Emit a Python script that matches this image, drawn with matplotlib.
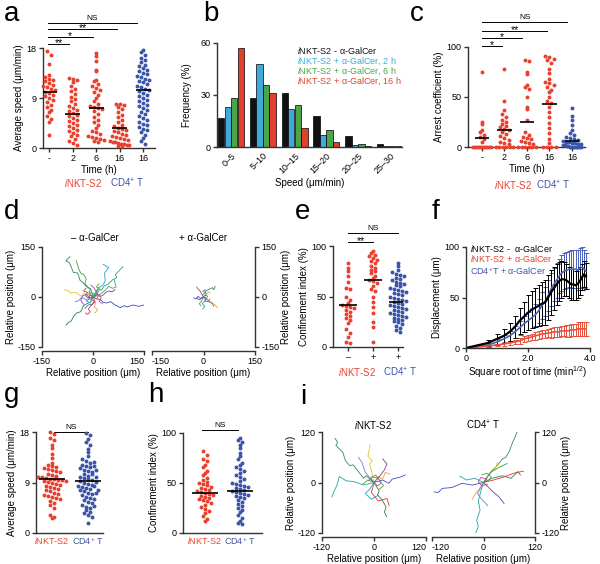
import numpy as np
import matplotlib
matplotlib.use("Agg")
import matplotlib.pyplot as plt
from matplotlib.transforms import blended_transform_factory

plt.rcParams["font.family"] = ["Liberation Sans", "DejaVu Sans"]
plt.rcParams["mathtext.fontset"] = "custom"
plt.rcParams["mathtext.rm"] = "Liberation Sans"
plt.rcParams["mathtext.it"] = "Liberation Sans:italic"
plt.rcParams["axes.unicode_minus"] = False

W, H = 600, 564
RED = "#e8412f"
BLUE = "#3c55a8"
NKT = r"$\mathit{i}$NKT-S2"
CD4 = r"CD4$^{+}$ T"

# ---- panel a: average speed over time ----
a_cats = ["-", "2", "6", "16", "16"]
a_ctrl = [17.4, 16.7, 15.2, 13.1, 12.8, 12.5, 12.3, 12.0, 11.7, 11.4, 11.2, 10.9, 10.6, 10.4, 10.1,
          9.9, 9.6, 9.3, 9.0, 8.6, 8.2, 7.8, 7.3, 6.9, 6.4, 5.8, 5.2, 4.6, 2.4]
a_2h = [12.6, 12.4, 12.2, 11.9, 11.2, 10.7, 10.2, 9.7, 9.2, 8.8, 8.4, 8.0, 7.6, 7.2, 6.9, 6.6, 6.3,
        6.0, 5.7, 5.4, 5.1, 4.8, 4.5, 4.2, 3.9, 3.6, 3.3, 3.0, 2.7, 2.4, 2.1, 1.7, 1.3, 0.9, 0.5]
a_6h = [17.1, 16.6, 15.6, 14.1, 13.8, 12.3, 12.0, 11.6, 11.1, 10.8, 10.4, 10.0, 9.5, 9.0, 8.4, 7.9,
        7.6, 7.4, 7.2, 7.0, 6.6, 6.1, 5.6, 5.1, 4.6, 4.1, 3.6, 3.1, 2.8, 2.5, 2.2, 2.0, 1.8, 1.6,
        1.4, 1.2, 1.0]
a_16h = [8.0, 7.9, 7.7, 7.4, 7.0, 6.5, 6.0, 5.5, 5.0, 4.6, 4.2, 3.9, 3.6, 3.4, 3.2, 3.0, 2.8, 2.6,
         2.4, 2.2, 2.0, 1.8, 1.6, 1.4, 1.3, 1.1, 1.0, 0.9, 0.8, 0.7, 0.6, 0.5, 0.4, 0.3]
a_cd4 = [17.6, 17.3, 16.8, 16.2, 15.8, 15.4, 15.0, 14.7, 14.4, 14.1, 13.8, 13.5, 13.3, 13.0, 12.8,
         12.5, 12.3, 12.0, 11.8, 11.5, 11.2, 11.0, 10.7, 10.4, 10.2, 9.9, 9.6, 9.3, 9.0, 8.7, 8.4,
         8.1, 7.8, 7.5, 7.2, 6.9, 6.5, 6.1, 5.8, 5.4, 5.0, 4.7, 4.4, 4.1, 3.8, 3.5, 3.2, 2.8, 2.3,
         1.8, 1.3, 0.8]
a_medians = [10.1, 6.2, 7.2, 3.6, 10.4]

# ---- panel b: speed histogram ----
b_bins = ["0–5", "5–10", "10–15", "15–20", "20–25", "25–30"]
b_ctrl = [17, 28, 31, 18, 6.5, 1.5]
b_2h = [23, 48, 22, 7, 1, 0.3]
b_6h = [28, 36, 24, 10, 2, 0.3]
b_16h = [57, 31, 11, 3, 0.3, 0.3]
b_labels = [NKT + " - α-GalCer", NKT + " + α-GalCer, 2 h",
            NKT + " + α-GalCer, 6 h", NKT + " + α-GalCer, 16 h"]
b_colors = ["#111111", "#3fa9dc", "#4aa646", "#e2402b"]

# ---- panel c: arrest coefficient ----
c_ctrl = [75, 25, 23, 17, 15, 12, 10, 8, 5, 0, 0, 0, 0, 0, 0, 0, 0, 0, 0]
c_2h = [78, 46, 37, 33, 30, 27, 25, 23, 21, 20, 18, 17, 15, 13, 11, 9, 7, 5, 4, 3, 0, 0, 0, 0, 0, 0]
c_6h = [87, 86, 75, 73, 62, 60, 58, 50, 40, 38, 27, 15, 12, 10, 9, 8, 6, 5, 4, 3, 0, 0, 0, 0, 0, 0]
c_16h = [91, 90, 88, 87, 84, 78, 74, 68, 65, 64, 62, 60, 57, 55, 50, 46, 44, 40, 35, 30, 24, 19,
         14, 8, 4, 0, 0, 0, 0]
c_cd4 = [39, 31, 27, 22, 17, 14, 12, 10, 9, 8, 7, 6, 5, 5, 4, 4, 3, 3, 2, 2, 1, 1, 0, 0, 0, 0, 0, 0, 0, 0]
c_medians = [9, 17, 25, 43, 6]

# ---- panel d: tracks (x, y) ----
d_left_tracks = [
    [(0, 0), (-12, 14), (-6, 24), (-20, 32), (-30, 44), (-38, 50), (-45, 72), (-58, 74), (-62, 85),
     (-70, 104), (-80, 108), (-68, 121)],
    [(0, 0), (14, 12), (10, 20), (26, 22), (34, 34), (44, 38), (58, 52), (70, 58), (66, 68),
     (76, 78), (88, 91)],
    [(0, 0), (12, -6), (22, -8), (30, -16), (40, -18), (52, -14), (62, -22), (80, -32), (92, -26),
     (100, -30), (118, -24), (135, -28), (150, -24)],
    [(0, 0), (-8, -16), (-18, -20), (-28, -26), (-36, -44), (-48, -48), (-56, -56), (-64, -72),
     (-72, -76), (-79, -84)],
    [(0, 0), (6, -14), (-4, -24), (-14, -36), (-8, -44), (-16, -52), (-22, -48)],
    [(0, 0), (-10, 8), (-18, 6), (-26, 12), (-34, 2), (-50, 14), (-66, 12), (-74, 20), (-83, 21)],
    [(0, 0), (8, -16), (4, -30), (14, -38), (6, -48)],
    [(0, 0), (14, 8), (22, 2), (30, 6), (38, 14), (46, 18), (56, 16), (65, 22)],
    [(0, 0), (-6, 22), (-14, 28), (-24, 40), (-20, 54), (-26, 66), (-36, 72), (-42, 84), (-49, 109)],
    [(0, 0), (8, 14), (16, 28), (28, 34), (36, 48), (34, 72), (46, 88), (30, 98)],
    [(0, 0), (-18, -10), (-26, -4), (-34, -2), (-44, -12), (-52, -14)],
    [(0, 0), (12, 10), (4, 26), (-6, 36)],
    [(0, 0), (14, 4), (26, 12), (36, 20), (46, 32), (58, 26), (68, 30), (62, 52)],
    [(0, 0), (-8, 6), (-14, -4), (-22, 4), (-16, 14), (-28, 18), (-20, 26)],
    [(0, 0), (6, 8), (-4, 14), (-12, 10), (-10, -6), (-20, -12), (-8, -18)],
    [(0, 0), (10, -6), (16, 4), (24, -2), (18, -14), (28, -20)],
    [(0, 0), (-6, -8), (4, -12), (-2, -22), (-14, -24), (-24, -34)],
    [(0, 0), (4, 10), (14, 14), (20, 24), (10, 30), (18, 40)],
    [(0, 0), (-12, -2), (-18, 8), (-30, 4), (-36, -10), (-28, -22)],
]
d_right_tracks = [
    [(0, 0), (8, 10), (4, 16), (14, 22), (26, 28), (30, 22), (34, 32)],
    [(0, 0), (6, -10), (-4, -20), (4, -28), (-2, -36)],
    [(0, 0), (-8, -4), (-16, 2), (-22, -6), (-28, -2)],
    [(0, 0), (10, -6), (16, -14), (26, -20), (30, -28)],
    [(0, 0), (-6, 10), (-10, 18), (-16, 24), (-20, 30)],
    [(0, 0), (10, 8), (14, 16), (20, 12)],
    [(0, 0), (14, -10), (24, -16), (34, -24), (40, -32)],
    [(0, 0), (-12, -8), (-20, -4)],
    [(0, 0), (-6, -12), (-12, -20), (-8, -26)],
    [(0, 0), (6, 6), (12, 2), (8, -6)],
    [(0, 0), (-4, 6), (4, 12), (-2, 18), (6, 22)],
    [(0, 0), (8, -4), (4, -12), (14, -14), (18, -6)],
]

# ---- panel e: confinement index ----
e_cats = ["–", "+", "+"]
e_ctrl = [83, 78, 75, 70, 64, 58, 57, 50, 47, 44, 42, 41, 40, 39, 37, 35, 33, 31, 29, 27, 24,
          18, 14, 10, 5, 4]
e_plus = [95, 93, 91, 90, 88, 86, 85, 83, 80, 78, 76, 75, 73, 70, 68, 66, 65, 63, 60, 57, 55,
          50, 45, 40, 34, 25, 20, 5]
e_cd4 = [83, 80, 76, 74, 72, 71, 70, 68, 67, 66, 64, 63, 62, 61, 60, 58, 57, 56, 55, 54, 53, 52,
         51, 50, 49, 48, 47, 46, 45, 44, 43, 42, 41, 40, 39, 38, 37, 36, 35, 34, 33, 32, 31, 30,
         29, 28, 27, 26, 25, 23, 21, 19, 17, 15]
e_medians = [42, 66, 45]

# ---- panel f: displacement vs sqrt(time) ----
f_sqrt_t = [0, 0.71, 1.0, 1.22, 1.41, 1.58, 1.73, 1.87, 2.0, 2.12, 2.24, 2.35, 2.45, 2.55, 2.65, 2.74,
            2.83, 2.92, 3.0, 3.08, 3.16, 3.24, 3.32, 3.39, 3.46, 3.54, 3.61, 3.67, 3.74, 3.81, 3.87]
f_ctrl = [0, 5, 9, 12, 16, 21, 27, 31, 35, 38, 40, 42, 44, 45, 50, 55, 59, 63, 66, 68, 68, 67, 65,
          63, 63, 62, 64, 66, 70, 73, 71]
f_ctrl_err = [0, 3, 5, 7, 9, 11, 13, 15, 17, 18, 19, 20, 21, 22, 22, 22, 21, 20, 19, 18, 17, 16,
              15, 15, 15, 14, 14, 14, 13, 13, 13]
f_cd4 = [0, 3, 6, 9, 12, 16, 20, 24, 27, 30, 33, 37, 42, 46, 52, 58, 63, 67, 71, 74, 76, 77, 78,
         78, 78, 78, 77, 79, 80, 78, 76]
f_cd4_err = [0, 2, 3, 4, 5, 6, 7, 8, 9, 10, 11, 12, 13, 14, 15, 16, 16, 17, 17, 18, 18, 18, 18,
             19, 19, 19, 20, 20, 20, 19, 18]
f_gal = [0, 2, 3, 4, 5, 6, 7, 9, 10, 11, 12, 13, 14, 14, 15, 15, 16, 16, 16, 17, 17, 17, 17, 18,
         18, 18, 19, 19, 19, 19, 19]
f_gal_err = [0, 1, 1, 2, 2, 2, 3, 3, 3, 3, 4, 4, 4, 4, 4, 5, 5, 5, 5, 5, 5, 6, 6, 6, 6, 6, 7, 7,
             7, 7, 7]

# ---- panel g: average speed ----
g_nkt = [18.0, 17.6, 17.0, 16.5, 15.7, 15.2, 14.0, 13.4, 12.5, 12.2, 12.0, 11.8, 11.6, 11.4, 11.2,
         11.0, 10.8, 10.6, 10.4, 10.2, 10.0, 9.9, 9.8, 9.7, 9.6, 9.5, 9.4, 9.3, 9.2, 9.1, 9.0, 8.8,
         8.6, 8.4, 8.2, 8.0, 7.8, 7.6, 7.4, 7.2, 7.0, 6.8, 6.6, 6.4, 6.2, 6.0, 5.7, 5.4, 5.0, 4.5,
         3.2, 2.9, 2.6]
g_cd4 = [17.8, 17.5, 16.8, 16.2, 15.6, 15.0, 14.4, 13.8, 13.2, 12.8, 12.5, 12.2, 12.0, 11.8, 11.5,
         11.2, 11.0, 10.8, 10.5, 10.2, 10.0, 9.8, 9.6, 9.4, 9.2, 9.0, 8.8, 8.6, 8.4, 8.2, 8.0, 7.8,
         7.6, 7.4, 7.2, 7.0, 6.8, 6.5, 6.2, 5.9, 5.6, 5.3, 5.0, 4.7, 4.4, 4.1, 3.8, 3.5, 3.2, 2.9,
         1.8, 12.6, 11.9, 11.3, 10.6, 9.9, 9.1, 8.3, 7.7, 7.1, 6.0, 4.9]
g_medians = [9.6, 9.3]

# ---- panel h: confinement index ----
h_nkt = [82, 78, 74, 72, 68, 66, 62, 60, 58, 55, 53, 51, 50, 49, 48, 46, 45, 44, 43, 42, 41, 40,
         39, 38, 37, 36, 35, 34, 33, 32, 30, 28, 26, 24, 22, 20, 17, 14, 12]
h_cd4 = [95, 93, 91, 88, 85, 80, 77, 74, 70, 68, 66, 64, 62, 60, 58, 56, 54, 52, 50, 49, 48, 47,
         46, 45, 44, 43, 42, 41, 40, 39, 38, 37, 36, 35, 33, 31, 29, 27, 25, 23, 21, 18, 15, 12,
         10, 9]
h_medians = [40, 42]

# ---- panel i: tracks ----
i_left_tracks = [
    [(0, 0), (-18, 16), (-24, 10), (-36, 26), (-48, 42), (-56, 40), (-66, 52), (-72, 72),
     (-88, 88), (-84, 96), (-90, 105)],
    [(0, 0), (-24, -6), (-46, 2), (-64, 4), (-80, 14), (-86, -8), (-92, -20), (-97, -34)],
    [(0, 0), (20, 6), (34, -2), (42, 8), (50, 10), (64, 14), (72, 18)],
    [(0, 0), (12, -20), (8, -30), (18, -40), (28, -58), (24, -70), (29, -81)],
    [(0, 0), (-6, -24), (10, -44), (30, -38), (35, -55)],
    [(0, 0), (-4, 20), (-10, 44), (-4, 52), (-14, 62), (-9, 90)],
    [(0, 0), (10, 14), (20, 8), (26, 24), (36, 20)],
    [(0, 0), (14, 16), (24, 30), (30, 44), (20, 56)],
    [(0, 0), (-14, 6), (-26, -4)],
    [(0, 0), (-10, -16), (-20, -26), (-6, -40), (10, -30)],
    [(0, 0), (-20, 24), (-28, 48), (-36, 60)],
    [(0, 0), (8, -8), (16, -2), (10, 10), (-4, 14), (-12, 4)],
    [(0, 0), (-8, 10), (4, 18), (12, 6), (22, -8), (12, -16)],
]
i_right_tracks = [
    [(0, 0), (14, 20), (30, 38), (44, 56), (52, 60), (60, 74), (68, 96), (72, 104), (78, 120)],
    [(0, 0), (-6, -20), (-12, -44), (-8, -66), (-16, -90), (-12, -104), (-18, -120)],
    [(0, 0), (-26, -6), (-50, -2), (-74, -12), (-96, -14), (-106, -24), (-115, -22)],
    [(0, 0), (20, 10), (44, 16), (64, 10), (80, 26), (86, 18)],
    [(0, 0), (24, 6), (50, 14), (70, 22), (93, 27)],
    [(0, 0), (10, 16), (20, 30), (30, 38), (32, 47)],
    [(0, 0), (-10, -16), (-20, -28), (-26, -40)],
    [(0, 0), (20, -20), (36, -34), (48, -50)],
    [(0, 0), (16, 24), (40, 38), (55, 45)],
    [(0, 0), (-20, 10), (-40, 6), (-55, 15)],
    [(0, 0), (-14, -26), (-4, -40), (10, -55)],
    [(0, 0), (8, 8), (-6, 12), (-12, 2), (-4, -8), (10, -4)],
    [(0, 0), (12, 4), (18, 14), (8, 22), (-4, 18)],
]
TRACK_COLORS = ["#2e8b57", "#1fa5a0", "#3b4cc0", "#2f7f3f", "#e0303a", "#e6c229", "#f0a040",
                "#7b3fa0", "#3aa03a", "#20a0c0", "#6a7fd0", "#c040a0", "#50a050", "#8a5a2a",
                "#30b0b0", "#d05080", "#4060c0", "#70a030", "#a040c0"]

fig = plt.figure(figsize=(6.0, 5.64), dpi=100)


def rect(x0, y0, x1, y1):
    return [x0 / W, 1 - y1 / H, (x1 - x0) / W, (y1 - y0) / H]


def ftext(x, y, s, **kw):
    kw.setdefault("fontsize", 7)
    kw.setdefault("ha", "center")
    kw.setdefault("va", "center")
    fig.text(x / W, 1 - y / H, s, **kw)


def style(ax, right=False):
    for side in ("top", "right", "left", "bottom"):
        ax.spines[side].set_visible(False)
    ax.spines["bottom"].set_visible(True)
    ax.spines["right" if right else "left"].set_visible(True)
    for sp in ax.spines.values():
        sp.set_linewidth(1.0)
        sp.set_color("#333333")
    ax.tick_params(direction="out", length=3, width=1.0, labelsize=6.5, pad=1.5, color="#333333")
    if right:
        ax.yaxis.tick_right()
        ax.yaxis.set_label_position("right")
    ax.set_facecolor("none")


def swarm(ax, center, values, color, dx, bin_h, max_half):
    values = np.asarray(values, dtype=float)
    bins = np.round(values / bin_h).astype(int)
    xs = np.zeros(len(values))
    for b in np.unique(bins):
        idx = np.where(bins == b)[0]
        n = len(idx)
        step = dx if n < 2 else min(dx, 2 * max_half / (n - 1))
        xs[idx] = center + (np.arange(n) - (n - 1) / 2) * step
    ax.scatter(xs, values, s=8, color=color, linewidths=0, clip_on=False, zorder=3)


def median_lines(ax, medians, half=0.32):
    for i, m in enumerate(medians):
        ax.plot([i - half, i + half], [m, m], color="black", lw=1.2, zorder=4, solid_capstyle="butt")


def sig(ax, x0, x1, yfrac, label):
    tr = blended_transform_factory(ax.transData, ax.transAxes)
    ax.plot([x0, x1], [yfrac, yfrac], color="black", lw=0.7, transform=tr, clip_on=False)
    fs = 6 if label == "NS" else 7.5
    dy = 0.01 if label == "NS" else -0.04
    ax.text((x0 + x1) / 2, yfrac + dy, label, transform=tr, ha="center", va="bottom", fontsize=fs)


def letter(x, y, s):
    ftext(x, y, s, fontsize=20, ha="left", va="center")


# ---------------- a ----------------
ax = fig.add_axes(rect(43, 48, 155, 148))
style(ax)
a_groups = [a_ctrl, a_2h, a_6h, a_16h, a_cd4]
for i, vals in enumerate(a_groups):
    swarm(ax, i, vals, BLUE if i == 4 else RED, dx=0.17, bin_h=0.9, max_half=0.42)
median_lines(ax, a_medians)
ax.set_xlim(-0.26, 4.51)
ax.set_ylim(0, 18)
ax.set_yticks([0, 9, 18])
ax.set_xticks(range(5))
ax.set_xticklabels(a_cats)
ax.set_xlabel("Time (h)", fontsize=7, labelpad=1)
ax.set_ylabel("Average speed (μm/min)", fontsize=7, labelpad=2)
sig(ax, -0.05, 4 - 0.25, 1.25, "NS")
sig(ax, -0.05, 3 - 0.1, 1.19, "**")
sig(ax, -0.05, 2 - 0.15, 1.11, "*")
sig(ax, -0.05, 1 - 0.15, 1.04, "**")
ftext(83, 183, NKT, color=RED)
ftext(127, 183, CD4, color=BLUE)
letter(4, 14, "a")

# ---------------- b ----------------
ax = fig.add_axes(rect(217, 43, 402, 147))
style(ax)
xb = np.arange(len(b_bins))
bw = 0.2
for k, (vals, col) in enumerate(zip([b_ctrl, b_2h, b_6h, b_16h], b_colors)):
    ax.bar(xb + (k - 1.5) * 0.205, vals, width=bw, color=col, edgecolor="black", linewidth=0.5)
ax.set_xlim(-0.44, 5.38)
ax.set_ylim(0, 60)
ax.set_yticks([0, 30, 60])
ax.set_xticks(xb)
ax.set_xticklabels(b_bins, rotation=45, ha="right", rotation_mode="anchor")
ax.tick_params(axis="x", length=0, pad=3)
ax.set_xlabel("Speed (μm/min)", fontsize=7, labelpad=2)
ax.set_ylabel("Frequency (%)", fontsize=7, labelpad=6)
for k, (lab, col) in enumerate(zip(b_labels, b_colors)):
    ftext(297, 51 + 10 * k, lab, color=col, ha="left", fontsize=6.5)
letter(203, 14, "b")

# ---------------- c ----------------
ax = fig.add_axes(rect(468, 47, 585, 147))
style(ax)
c_groups = [c_ctrl, c_2h, c_6h, c_16h, c_cd4]
for i, vals in enumerate(c_groups):
    swarm(ax, i, vals, BLUE if i == 4 else RED, dx=0.18, bin_h=4.5, max_half=0.38)
median_lines(ax, c_medians)
ax.set_xlim(-0.62, 4.58)
ax.set_ylim(0, 100)
ax.set_yticks([0, 50, 100])
ax.set_xticks(range(5))
ax.set_xticklabels(a_cats)
ax.set_xlabel("Time (h)", fontsize=7, labelpad=1)
ax.set_ylabel("Arrest coefficient (%)", fontsize=7, labelpad=2)
sig(ax, 0, 4 - 0.2, 1.25, "NS")
sig(ax, 0, 3 - 0.1, 1.16, "**")
sig(ax, 0, 2 - 0.2, 1.09, "*")
sig(ax, 0, 1 - 0.1, 1.01, "*")
ftext(513, 185, NKT, color=RED)
ftext(553, 185, CD4, color=BLUE)
letter(410, 14, "c")


# ---------------- d ----------------
def tracks_panel(box, tracks, lim, ticks, right, title, title_xy):
    ax = fig.add_axes(rect(*box))
    style(ax, right=right)
    ax.spines["bottom"].set_position(("outward", 3))
    for k, tr in enumerate(tracks):
        pts = np.array(tr)
        ax.plot(pts[:, 0], pts[:, 1], color=TRACK_COLORS[k % len(TRACK_COLORS)], lw=0.6)
    ax.set_xlim(-lim, lim)
    ax.set_ylim(-lim, lim)
    ax.set_xticks(ticks)
    ax.set_yticks(ticks)
    labels = ax.set_xticklabels([str(t) for t in ticks])
    if right:
        labels[0].set_ha("left")
        labels[0].set_x(0)
    else:
        labels[-1].set_ha("right")
    ax.set_xlabel("Relative position (μm)", fontsize=7, labelpad=1)
    ax.set_ylabel("Relative position (μm)", fontsize=7, labelpad=1)
    ftext(title_xy[0], title_xy[1], title)
    return ax


tracks_panel((42, 247, 144, 347), d_left_tracks, 150, [-150, 0, 150], False, "– α-GalCer", (95, 238))
tracks_panel((152, 247, 255, 347), d_right_tracks, 150, [-150, 0, 150], True, "+ α-GalCer", (203, 238))
letter(4, 212, "d")

# ---------------- e ----------------
ax = fig.add_axes(rect(333, 246, 403, 347))
style(ax)
for i, vals in enumerate([e_ctrl, e_plus, e_cd4]):
    swarm(ax, i, vals, BLUE if i == 2 else RED, dx=0.16, bin_h=4.0, max_half=0.45)
median_lines(ax, e_medians, half=0.36)
ax.set_xlim(-0.6, 2.2)
ax.set_ylim(0, 100)
ax.set_yticks([0, 50, 100])
ax.set_xticks(range(3))
ax.set_xticklabels(e_cats)
ax.set_ylabel("Confinement index (%)", fontsize=7, labelpad=2)
sig(ax, 0, 2, 1.13, "NS")
sig(ax, 0, 1, 1.04, "**")
ftext(357, 372, NKT, color=RED)
ftext(400, 372, CD4, color=BLUE)
letter(295, 212, "e")

# ---------------- f ----------------
ax = fig.add_axes(rect(466, 247, 590, 348))
style(ax)
ax.errorbar(f_sqrt_t, f_cd4, yerr=f_cd4_err, color="#4a62b8", lw=1.2, elinewidth=0.7,
            capsize=1.8, capthick=0.7)
ax.errorbar(f_sqrt_t, f_gal, yerr=f_gal_err, color="#e8503a", lw=1.2, elinewidth=0.7,
            capsize=1.8, capthick=0.7)
ax.errorbar(f_sqrt_t, f_ctrl, yerr=f_ctrl_err, color="black", lw=1.6, elinewidth=0.7,
            capsize=1.8, capthick=0.7)
ax.set_xlim(0, 4.0)
ax.set_ylim(0, 100)
ax.set_xticks([0, 2, 4])
ax.set_xticklabels(["0", "2.0", "4.0"])
ax.set_yticks([0, 50, 100])
ax.set_xlabel("Square root of time (min$^{1/2}$)", fontsize=7, labelpad=1)
ax.set_ylabel("Displacement (μm)", fontsize=7, labelpad=2)
ftext(470, 248, NKT + " -  α-GalCer", color="black", ha="left", fontsize=6.5)
ftext(470, 259, NKT + " + α-GalCer", color=RED, ha="left", fontsize=6.5)
ftext(470, 271, r"CD4$^{+}$T + α-GalCer", color=BLUE, ha="left", fontsize=6.5)
letter(432, 212, "f")

# ---------------- g ----------------
ax = fig.add_axes(rect(36, 432, 103, 533))
style(ax)
for i, vals in enumerate([g_nkt, g_cd4]):
    swarm(ax, i, vals, BLUE if i == 1 else RED, dx=0.11, bin_h=0.8, max_half=0.38)
median_lines(ax, g_medians, half=0.36)
ax.set_xlim(-0.44, 1.42)
ax.set_ylim(0, 18)
ax.set_yticks([0, 9, 18])
ax.set_xticks([0, 1])
ax.set_xticklabels([NKT, CD4], fontsize=6.5)
for t, c in zip(ax.get_xticklabels(), [RED, BLUE]):
    t.set_color(c)
ax.tick_params(axis="x", length=0)
ax.set_ylabel("Average speed (μm/min)", fontsize=7, labelpad=2)
sig(ax, 0.05, 1.0, 1.0, "NS")
letter(4, 395, "g")

# ---------------- h ----------------
ax = fig.add_axes(rect(183, 433, 262, 533))
style(ax)
for i, vals in enumerate([h_nkt, h_cd4]):
    swarm(ax, i, vals, BLUE if i == 1 else RED, dx=0.11, bin_h=4.0, max_half=0.38)
median_lines(ax, h_medians, half=0.36)
ax.set_xlim(-0.63, 1.63)
ax.set_ylim(0, 100)
ax.set_yticks([0, 50, 100])
ax.set_xticks([0, 1])
ax.set_xticklabels([NKT, CD4], fontsize=6.5)
for t, c in zip(ax.get_xticklabels(), [RED, BLUE]):
    t.set_color(c)
ax.tick_params(axis="x", length=0)
ax.set_ylabel("Confinement index (%)", fontsize=7, labelpad=2)
sig(ax, -0.08, 0.95, 1.03, "NS")
letter(148, 395, "h")

# ---------------- i ----------------
tracks_panel((322, 432, 426, 533), i_left_tracks, 120, [-120, 0, 120], False, NKT, (373, 425))
tracks_panel((432, 432, 535, 533), i_right_tracks, 120, [-120, 0, 120], True, CD4, (483, 425))
letter(300, 397, "i")

fig.savefig("out.png", dpi=100)
